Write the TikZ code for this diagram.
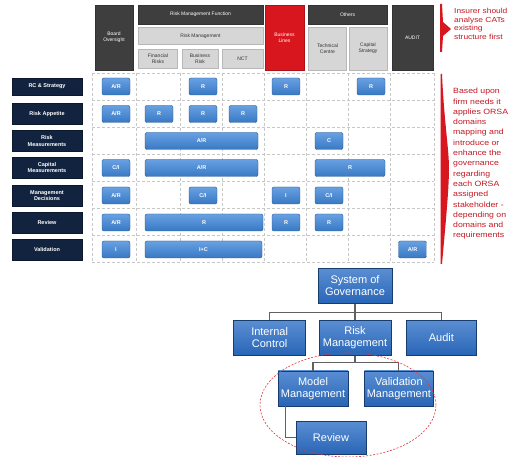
\documentclass[tikz,border=0pt]{standalone}
\usepackage{fontspec}
\setmainfont{Liberation Sans}
\setsansfont{Liberation Sans}
\newfontfamily\notefont[FakeStretch=1.15]{Liberation Sans}
\usepackage{xcolor}
\usepackage{tikz}
\usetikzlibrary{positioning, calc}
\definecolor{HeadDark}{RGB}{62,62,62}
\definecolor{HeadLight}{RGB}{214,214,214}
\definecolor{LineRed}{RGB}{215,22,30}
\definecolor{RowNavy}{RGB}{17,35,62}
\definecolor{CellBlue}{RGB}{62,134,218}
\definecolor{OrgBlue}{RGB}{44,110,198}
\definecolor{NoteRed}{RGB}{196,24,34}

\begin{document}
\begin{tikzpicture}[
  x=1pt, y=-1pt,
  font=\sffamily,
  every node/.style={align=center},
  head/.style={
    rectangle, fill=HeadDark, draw=HeadDark!80!black, text=white,
    inner sep=1pt, font=\fontsize{5}{6}\selectfont\sffamily
  },
  subhead/.style={
    rectangle, fill=HeadLight, draw=black!28, text=black!80,
    inner sep=1pt, font=\fontsize{5}{6}\selectfont\sffamily
  },
  redhead/.style={
    rectangle, fill=LineRed, draw=LineRed!80!black, text=white,
    inner sep=1pt, font=\fontsize{5}{6}\selectfont\sffamily
  },
  rowlabel/.style={
    rectangle, fill=RowNavy, draw=RowNavy!70!black, text=white,
    minimum width=70pt, minimum height=21pt, inner sep=1pt,
    font=\fontsize{5.5}{6.5}\selectfont\bfseries
  },
  cell/.style={
    rectangle, rounded corners=2pt, top color=CellBlue!78!white,
    bottom color=CellBlue!90!black, draw=CellBlue!65!black, text=white,
    minimum width=28pt, minimum height=17pt, inner sep=1pt,
    font=\fontsize{5.5}{6}\selectfont\bfseries
  },
  gridline/.style={densely dashed, draw=black!22, line width=0.5pt},
  org/.style={
    rectangle, top color=OrgBlue!78!white, bottom color=OrgBlue!92!black,
    draw=OrgBlue!55!black, text=white, minimum width=72pt,
    minimum height=35pt, inner sep=0pt, font=\fontsize{11}{12}\selectfont
  },
  conn/.style={draw=black!62, line width=1.1pt},
  note/.style={anchor=north west, align=left, text=NoteRed, inner sep=0pt}
]
\clip (0,0) rectangle (509,457);
\fill[white] (0,0) rectangle (509,457);

% ================ grid of the matrix ================
\foreach \gx in {92,136,180,222,264,306,348,390,434}
  \draw[gridline] (\gx,73.5) -- (\gx,262.5);
\foreach \gy in {73.5,100.5,127.5,154.5,181.5,208.5,235.5,262.5}
  \draw[gridline] (92,\gy) -- (434,\gy);

% ================ column headers ================
\node[head, minimum width=38pt, minimum height=65pt] (board) at (114,37.5)
  {Board\\Oversight};
\node[head, minimum width=125pt, minimum height=19pt] (rmfHead) at (200.5,14.5)
  {Risk Management Function};
\node[subhead, minimum width=125pt, minimum height=17pt] (rmHead) at (200.5,36)
  {Risk Management};
\node[subhead, minimum width=39pt, minimum height=19pt] (fin) at (158,58.5)
  {Financial\\Risks};
\node[subhead, minimum width=36pt, minimum height=19pt] (busRisk) at (200,58.5)
  {Business\\Risk};
\node[subhead, minimum width=41pt, minimum height=19pt] (nct) at (242.5,58.5)
  {NCT};
\node[redhead, minimum width=39pt, minimum height=65pt] (bizLines) at (284.5,37.5)
  {Business\\Lines};
\node[head, minimum width=79pt, minimum height=19pt] (othHead) at (347.5,14.5)
  {Others};
\node[subhead, minimum width=38pt, minimum height=43pt] (tech) at (327.5,48.5)
  {Technical\\Centre};
\node[subhead, minimum width=38pt, minimum height=43pt] (capStrat) at (368,48.5)
  {Capital\\Strategy};
\node[head, minimum width=41pt, minimum height=65pt] (audit) at (412.5,37.5)
  {AUDIT};

% ================ row labels ================
\node[rowlabel, minimum height=17pt] (rowRc) at (47,86.5) {RC \& Strategy};
\node[rowlabel] (rowApp) at (47,114) {Risk Appetite};
\node[rowlabel] (rowMeas) at (47,141) {Risk\\Measurements};
\node[rowlabel] (rowCap) at (47,167.5) {Capital\\Measurements};
\node[rowlabel] (rowDec) at (47,195.5) {Management\\Decisions};
\node[rowlabel] (rowRev) at (47,222.5) {Review};
\node[rowlabel] (rowVal) at (47,249.5) {Validation};

% ================ cells ================
% RC & Strategy
\node[cell] (c11) at (116,86.5) {A/R};
\node[cell] (c13) at (203,86.5) {R};
\node[cell] (c15) at (286,86.5) {R};
\node[cell] (c17) at (371,86.5) {R};
% Risk Appetite
\node[cell] (c21) at (116,114) {A/R};
\node[cell] (c22) at (159,114) {R};
\node[cell] (c23) at (203,114) {R};
\node[cell] (c24) at (243,114) {R};
% Risk Measurements
\node[cell, minimum width=113pt] (c32) at (201.5,141) {A/R};
\node[cell] (c36) at (329,141) {C};
% Capital Measurements
\node[cell] (c41) at (116,168) {C/I};
\node[cell, minimum width=113pt] (c42) at (201.5,168) {A/R};
\node[cell, minimum width=70pt] (c46) at (350,168) {R};
% Management Decisions
\node[cell] (c51) at (116,195.5) {A/R};
\node[cell] (c53) at (203,195.5) {C/I};
\node[cell] (c55) at (286,195.5) {I};
\node[cell] (c56) at (329,195.5) {C/I};
% Review
\node[cell] (c61) at (116,222.5) {A/R};
\node[cell, minimum width=118pt] (c62) at (204,222.5) {R};
\node[cell] (c65) at (286,222.5) {R};
\node[cell] (c66) at (329,222.5) {R};
% Validation
\node[cell] (c71) at (116,249.5) {I};
\node[cell, minimum width=117pt] (c72) at (203.5,249.5) {I+C};
\node[cell] (c78) at (412.5,249.5) {A/R};

% ================ red markers and notes ================
\fill[LineRed] (440,4) -- (442,4) -- (443,22) -- (451,29) -- (443,36)
  -- (442,52) -- (440,52) -- cycle;
\fill[LineRed] (440.5,74) -- (442,74) .. controls (444,120) and (449,150) .. (449,168)
  .. controls (449,190) and (445,230) .. (442,264) -- (440.5,264) -- cycle;
\node[note, font=\notefont\fontsize{7.3}{8.7}\selectfont] (note1) at (454,8)
  {Insurer should\\analyse CATs\\existing\\structure first};
\node[note, font=\notefont\fontsize{7.6}{10.3}\selectfont] (note2) at (453,88)
  {Based upon\\firm needs it\\applies ORSA\\domains\\mapping and\\introduce or\\enhance the\\governance\\regarding\\each ORSA\\assigned\\stakeholder -\\depending on\\domains and\\requirements};

% ================ governance tree ================
\node[org, minimum width=74pt] (sog) at (355,286) {System of\\Governance};
\node[org, below=16.5pt of sog] (riskMgmt) {Risk\\Management};
\node[org, left=13pt of riskMgmt] (intCtrl) {Internal\\Control};
\node[org, right=15pt of riskMgmt, minimum width=70pt] (auditOrg) {Audit};
\node[org, below=15pt of riskMgmt, xshift=-42pt, minimum width=70pt] (modelMgmt)
  {Model\\Management};
\node[org, right=16pt of modelMgmt, minimum width=69pt] (valMgmt)
  {Validation\\Management};
\node[org, below=15pt of modelMgmt, xshift=18pt, minimum width=70pt,
      minimum height=33pt] (review) {Review};

\draw[conn] (sog.south) -- (riskMgmt.north);
\draw[conn] ([yshift=-8.5pt]sog.south) -| (intCtrl.north);
\draw[conn] ([yshift=-8.5pt]sog.south) -| (auditOrg.north);
\draw[conn] (riskMgmt.south) -- ([yshift=-7pt]riskMgmt.south) -| (modelMgmt.north);
\draw[conn] ([yshift=-7pt]riskMgmt.south) -| (valMgmt.north);
\draw[conn] ([xshift=8pt]modelMgmt.south west) |- (review.west);

\draw[LineRed!85!white, line width=0.6pt, dash pattern=on 2pt off 1.5pt]
  (348,405) ellipse [x radius=88pt, y radius=52pt];
\end{tikzpicture}
\end{document}
